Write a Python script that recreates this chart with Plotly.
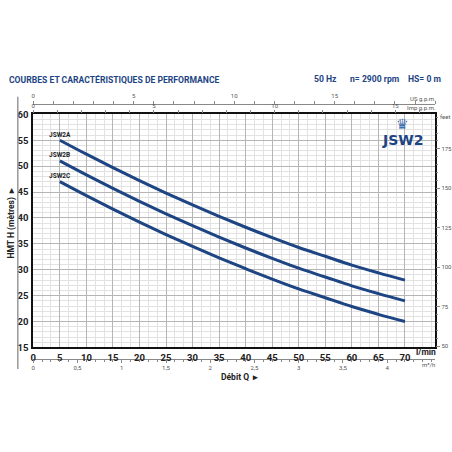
import plotly.graph_objects as go

# data
flow_lmin = [5, 10, 15, 20, 25, 30, 35, 40, 45, 50, 55, 60, 65, 70]
head_jsw2a = [55, 52.3, 49.7, 47.2, 44.8, 42.5, 40.3, 38.2, 36.2, 34.3, 32.6, 30.9, 29.4, 28]
head_jsw2b = [51, 48.3, 45.7, 43.2, 40.8, 38.5, 36.3, 34.2, 32.2, 30.3, 28.6, 26.9, 25.4, 24]
head_jsw2c = [47, 44.3, 41.7, 39.2, 36.8, 34.5, 32.3, 30.2, 28.2, 26.3, 24.6, 22.9, 21.4, 20]
series_names = ["JSW2A", "JSW2B", "JSW2C"]
label_heads = [56.0, 52.1, 48.0]

W = H = 452
px_x0, px_x1 = 30.7, 438.0
px_ytop, px_ybot = 111.0, 350.0
XMAX = 75.7
YMIN, YMAX = 15, 60

BLUE = "#1d4483"
TXT = "#222"
FONT = "Roboto"

fig = go.Figure()
for name, h in zip(series_names, [head_jsw2a, head_jsw2b, head_jsw2c]):
    fig.add_trace(go.Scatter(x=flow_lmin, y=h, mode="lines", line=dict(color=BLUE, width=3, shape="spline"),
                             name=name, showlegend=False, hoverinfo="skip"))

fig.add_trace(go.Scatter(x=[None], y=[None], xaxis="x2", yaxis="y", showlegend=False))
fig.add_trace(go.Scatter(x=[None], y=[None], xaxis="x3", yaxis="y", showlegend=False))
fig.add_trace(go.Scatter(x=[None], y=[None], xaxis="x4", yaxis="y", showlegend=False))
fig.add_trace(go.Scatter(x=[None], y=[None], xaxis="x", yaxis="y2", showlegend=False))

dx0 = px_x0 / W
dx1 = px_x1 / W
dy0 = 1 - px_ybot / H
dy1 = 1 - px_ytop / H

small = dict(family=FONT, size=6, color="#555")
tickbold = dict(family=FONT, size=9.5, color=TXT, weight="bold")

fig.update_layout(
    width=W, height=H, margin=dict(l=0, r=0, t=0, b=0),
    paper_bgcolor="white", plot_bgcolor="white",
    xaxis=dict(domain=[dx0, dx1], range=[0, XMAX], dtick=5, tick0=0,
               showgrid=True, gridcolor="#b5b5b5", gridwidth=1,
               minor=dict(dtick=5/3, showgrid=True, gridcolor="#e2e2e2"),
               showline=True, linecolor="#111", linewidth=2, mirror=True,
               ticks="", tickfont=tickbold, ticklabelstandoff=0,
               zeroline=False, anchor="y",
               tickvals=list(range(0, 71, 5))),
    yaxis=dict(domain=[dy0, dy1], range=[YMIN, YMAX], dtick=5,
               showgrid=True, gridcolor="#b5b5b5", gridwidth=1,
               minor=dict(dtick=1, showgrid=True, gridcolor="#e2e2e2"),
               showline=True, linecolor="#111", linewidth=2, mirror=True,
               ticks="", tickfont=tickbold,
               zeroline=False, anchor="x", ticklabelstandoff=1),
    xaxis2=dict(overlaying="x", side="top", anchor="free", position=1 - 100 / H,
                range=[0, XMAX / 3.785], dtick=5, tick0=0, showgrid=False, zeroline=False,
                showline=True, linecolor="#888", linewidth=1, ticks="outside", ticklen=3,
                tickcolor="#888", minor=dict(dtick=1, ticks="outside", ticklen=3, tickcolor="#888"),
                tickfont=small, tickvals=[0, 5, 10, 15], ticklabelstandoff=0),
    xaxis3=dict(overlaying="x", side="top", anchor="y",
                range=[0, XMAX / 4.546], dtick=5, tick0=0, showgrid=False, zeroline=False,
                showline=False, ticks="outside", ticklen=3, tickcolor="#888",
                minor=dict(dtick=1, ticks="outside", ticklen=3, tickcolor="#888"),
                tickfont=small, tickvals=[0, 5, 10, 15], ticklabelstandoff=0),
    xaxis4=dict(overlaying="x", side="bottom", anchor="free", position=1 - 362 / H,
                range=[0, XMAX / 16.667], dtick=0.5, tick0=0, showgrid=False, zeroline=False,
                showline=True, linecolor="#888", linewidth=1, ticks="outside", ticklen=3,
                tickcolor="#888", minor=dict(dtick=0.1, ticks="outside", ticklen=2, tickcolor="#888"),
                tickfont=small, tickvals=[0, 0.5, 1, 1.5, 2, 2.5, 3, 3.5, 4],
                ticktext=["0", "0,5", "1", "1,5", "2", "2,5", "3", "3,5", "4"], ticklabelstandoff=0),
    yaxis2=dict(overlaying="y", side="right", anchor="x",
                range=[YMIN * 3.28084, YMAX * 3.28084], showgrid=False, zeroline=False,
                showline=False, ticks="outside", ticklen=4, tickcolor="#888",
                tickvals=[50, 75, 100, 125, 150, 175],
                minor=dict(dtick=5, tick0=0, ticks="outside", ticklen=2, tickcolor="#888"),
                tickfont=small, ticklabelstandoff=0),
)

ann = []
def pann(x, y, text, font, xanchor="left", **kw):
    d = dict(x=x / W, y=1 - y / H, xref="paper", yref="paper", xanchor=xanchor, yanchor="middle",
             text=text, showarrow=False, font=font)
    d.update(kw)
    ann.append(d)

head = dict(family=FONT, size=8.6, color=BLUE, weight="bold")
pann(4, 75, "COURBES ET CARACTÉRISTIQUES DE PERFORMANCE", head)
pann(341, 75, "50 Hz", head, xanchor="right")
pann(403, 75, "n= 2900 rpm", head, xanchor="right")
pann(446, 75, "HS= 0 m", head, xanchor="right")
pann(441, 95, "US g.p.m.", small, xanchor="right")
pann(441, 104, "Imp g.p.m.", small, xanchor="right")
pann(441, 113, "feet", small)
pann(441, 355, "l/min", dict(family=FONT, size=8.5, color=TXT, weight="bold"), xanchor="right")
pann(440, 367, "m³/h", small, xanchor="right")
pann(240, 380, "Débit Q  ▸", dict(family=FONT, size=8.5, color=TXT, weight="bold"), xanchor="center")
pann(9, 222, "HMT H (mètres)  ▸", dict(family=FONT, size=8.5, color=TXT, weight="bold"), xanchor="center",
     textangle=-90)
for name, yv in zip(series_names, label_heads):
    ann.append(dict(x=2.6, y=yv, xref="x", yref="y", xanchor="left", yanchor="middle",
                    text=name, showarrow=False, font=dict(family=FONT, size=6.5, color=TXT, weight="bold")))
pann(405, 121, "♛", dict(family="DejaVu Sans", size=14, color="#3f6fb0"), xanchor="center")
pann(405, 137, "JSW2", dict(family="DejaVu Sans", size=14, color=BLUE, weight="bold"), xanchor="center")
fig.update_layout(annotations=ann)

fig.add_shape(type="line", xref="paper", yref="paper", x0=15 / W, x1=15 / W, y0=1 - 93 / H, y1=1 - 372 / H,
              line=dict(color="#999", width=1.5))

fig.write_html("out.html")
